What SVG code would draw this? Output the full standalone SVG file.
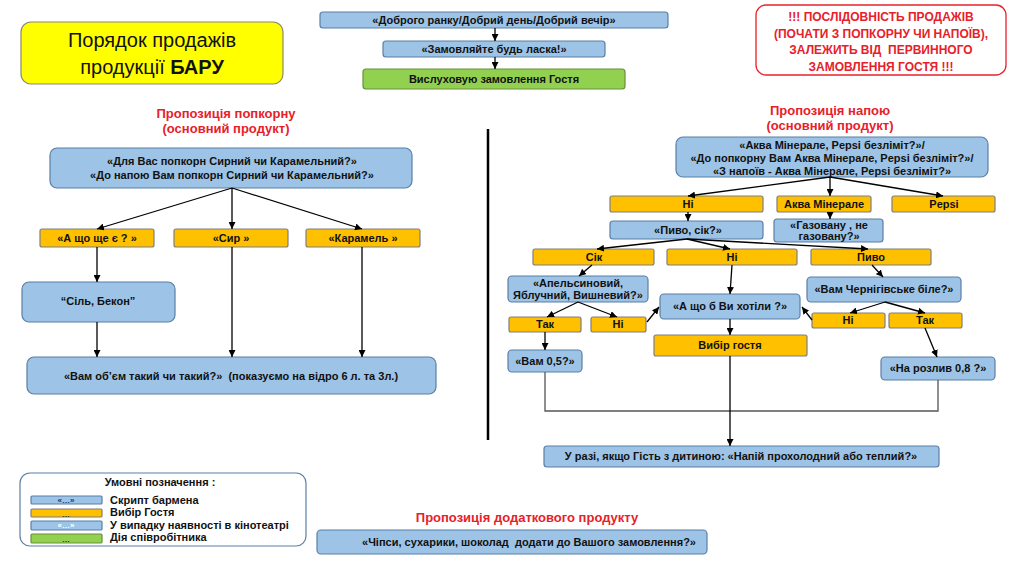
<svg xmlns="http://www.w3.org/2000/svg" width="1024" height="574" viewBox="0 0 1024 574">
<defs>
<marker id="ah" viewBox="0 0 10 10" refX="10" refY="5" markerWidth="7" markerHeight="7" markerUnits="userSpaceOnUse" orient="auto">
<path d="M0,0 L10,5 L0,10 z" fill="#000"/>
</marker>
</defs>
<style>
.b{fill:#9DC3E6;stroke:#5B7FA6;stroke-width:1.2}
.o{fill:#FFC000;stroke:#7F7F7F;stroke-width:1.2}
.g{fill:#92D050;stroke:#6A8F3A;stroke-width:1.2}
.t{font-family:"Liberation Sans",Arial,sans-serif;font-weight:bold;font-size:11px;fill:#111;text-anchor:middle}
.l{font-family:"Liberation Sans",Arial,sans-serif;font-weight:bold;font-size:11px;fill:#111;text-anchor:start}
.s{font-family:"Liberation Sans",Arial,sans-serif;font-weight:bold;font-size:8px;text-anchor:middle}
.r{font-family:"Liberation Sans",Arial,sans-serif;font-weight:bold;font-size:13px;fill:#E8202A;text-anchor:middle}
.w{font-family:"Liberation Sans",Arial,sans-serif;font-weight:bold;font-size:12px;fill:#E8202A;text-anchor:middle}
.c line,.c path,.c polyline{stroke:#000;stroke-width:1.3;fill:none}
.a{marker-end:url(#ah)}
</style>
<rect width="1024" height="574" fill="#fff"/>

<g id="title">
<rect x="21" y="22" width="262" height="62" rx="10" fill="#FFFF00" stroke="#8A8A6A" stroke-width="1.2"/>
<text x="152" y="47" font-family="'Liberation Sans',Arial,sans-serif" font-size="20" text-anchor="middle" fill="#111">Порядок продажів</text>
<text x="152" y="74" font-family="'Liberation Sans',Arial,sans-serif" font-size="20" text-anchor="middle" fill="#111">продукції <tspan font-weight="bold">БАРУ</tspan></text>
</g>

<g id="greet">
<rect class="b" x="320" y="12" width="348" height="16" rx="3"/>
<text class="t" x="494" y="24">«Доброго ранку/Добрий день/Добрий вечір»</text>
</g>
<g id="order">
<rect class="b" x="383" y="41" width="222" height="16" rx="3"/>
<text class="t" x="494" y="53">«Замовляйте будь ласка!»</text>
</g>
<g id="listen">
<rect class="g" x="363" y="69" width="262" height="20" rx="3"/>
<text class="t" x="494" y="83">Вислуховую замовлення Гостя</text>
</g>

<g id="warning">
<rect x="756" y="5" width="250" height="70" rx="10" fill="#fff" stroke="#E8202A" stroke-width="1.3"/>
<text class="w" x="881" y="21">!!! ПОСЛІДОВНІСТЬ ПРОДАЖІВ</text>
<text class="w" x="881" y="38">(ПОЧАТИ З ПОПКОРНУ ЧИ НАПОЇВ),</text>
<text class="w" x="881" y="54" xml:space="preserve">ЗАЛЕЖИТЬ ВІД  ПЕРВИННОГО</text>
<text class="w" x="881" y="71">ЗАМОВЛЕННЯ ГОСТЯ !!!</text>
</g>

<g id="popcorn-title">
<text class="r" x="226" y="118">Пропозиція попкорну</text>
<text class="r" x="226" y="133">(основний продукт)</text>
</g>
<g id="popcorn-q">
<rect class="b" x="50" y="148" width="362" height="40" rx="7"/>
<text class="t" x="232" y="165">«Для Вас попкорн Сирний чи Карамельний?»</text>
<text class="t" x="232" y="179">«До напою Вам попкорн Сирний чи Карамельний?»</text>
</g>
<g id="p-other">
<rect class="o" x="40" y="229" width="114" height="18" rx="2"/>
<text class="t" x="97" y="242">«А що ще є ? »</text>
</g>
<g id="p-cheese">
<rect class="o" x="174" y="229" width="114" height="18" rx="2"/>
<text class="t" x="231" y="242">«Сир »</text>
</g>
<g id="p-caramel">
<rect class="o" x="306" y="229" width="114" height="18" rx="2"/>
<text class="t" x="363" y="242">«Карамель »</text>
</g>
<g id="p-salt">
<rect class="b" x="22" y="282" width="153" height="40" rx="7"/>
<text class="t" x="98" y="305">“Сіль, Бекон”</text>
</g>
<g id="p-volume">
<rect class="b" x="27" y="357" width="409" height="37" rx="7"/>
<text class="t" x="231" y="380" xml:space="preserve">«Вам об’єм такий чи такий?»  (показуємо на відро 6 л. та 3л.)</text>
</g>

<g id="drink-title">
<text class="r" x="830" y="115">Пропозиція напою</text>
<text class="r" x="830" y="130">(основний продукт)</text>
</g>
<g id="drink-q">
<rect class="b" x="676" y="137" width="312" height="40" rx="7"/>
<text class="t" x="832" y="149">«Аква Мінерале, Pepsi безліміт?»/</text>
<text class="t" x="832" y="162">«До попкорну Вам Аква Мінерале, Pepsi безліміт?»/</text>
<text class="t" x="832" y="175">«З напоїв - Аква Мінерале, Pepsi безліміт?»</text>
</g>
<g id="d-no">
<rect class="o" x="610" y="196" width="153" height="16" rx="2"/>
<text class="t" x="688" y="208">Ні</text>
</g>
<g id="d-aqua">
<rect class="o" x="777" y="196" width="94" height="16" rx="2"/>
<text class="t" x="824" y="208">Аква Мінерале</text>
</g>
<g id="d-pepsi">
<rect class="o" x="892" y="196" width="103" height="16" rx="2"/>
<text class="t" x="944" y="208">Pepsi</text>
</g>
<g id="d-beer-juice">
<rect class="b" x="610" y="221" width="153" height="18" rx="3"/>
<text class="t" x="688" y="234">«Пиво, сік?»</text>
</g>
<g id="d-gas">
<rect class="b" x="774" y="219" width="109" height="23" rx="3"/>
<text class="t" x="829" y="229">«Газовану , не</text>
<text class="t" x="829" y="240">газовану?»</text>
</g>
<g id="d-juice">
<rect class="o" x="533" y="249" width="121" height="16" rx="2"/>
<text class="t" x="594" y="261">Сік</text>
</g>
<g id="d-no2">
<rect class="o" x="667" y="249" width="130" height="16" rx="2"/>
<text class="t" x="732" y="261">Ні</text>
</g>
<g id="d-beer">
<rect class="o" x="811" y="249" width="120" height="16" rx="2"/>
<text class="t" x="871" y="261">Пиво</text>
</g>
<g id="d-juices">
<rect class="b" x="508" y="276" width="140" height="26" rx="4"/>
<text class="t" x="578" y="287">«Апельсиновий,</text>
<text class="t" x="578" y="299">Яблучний, Вишневий?»</text>
</g>
<g id="d-what">
<rect class="b" x="660" y="294" width="140" height="25" rx="4"/>
<text class="t" x="730" y="310">«А що б Ви хотіли ?»</text>
</g>
<g id="d-chern">
<rect class="b" x="807" y="277" width="154" height="25" rx="4"/>
<text class="t" x="884" y="293">«Вам Чернігівське біле?»</text>
</g>
<g id="d-yes-j">
<rect class="o" x="509" y="317" width="72" height="15" rx="2"/>
<text class="t" x="545" y="328">Так</text>
</g>
<g id="d-no-j">
<rect class="o" x="591" y="317" width="55" height="15" rx="2"/>
<text class="t" x="618" y="328">Ні</text>
</g>
<g id="d-no-b">
<rect class="o" x="812" y="313" width="73" height="15" rx="2"/>
<text class="t" x="848" y="324">Ні</text>
</g>
<g id="d-yes-b">
<rect class="o" x="889" y="313" width="73" height="15" rx="2"/>
<text class="t" x="925" y="324">Так</text>
</g>
<g id="d-choice">
<rect class="o" x="654" y="335" width="153" height="21" rx="2"/>
<text class="t" x="730" y="349">Вибір гостя</text>
</g>
<g id="d-05">
<rect class="b" x="508" y="350" width="74" height="22" rx="4"/>
<text class="t" x="545" y="365">«Вам 0,5?»</text>
</g>
<g id="d-08">
<rect class="b" x="881" y="357" width="114" height="23" rx="4"/>
<text class="t" x="938" y="372">«На розлив 0,8 ?»</text>
</g>
<g id="d-child">
<rect class="b" x="544" y="446" width="395" height="21" rx="3"/>
<text class="t" x="741" y="460">У разі, якщо Гість з дитиною: «Напій прохолодний або теплий?»</text>
</g>

<g id="legend">
<rect x="20" y="473" width="286" height="73" rx="10" fill="#fff" stroke="#5B7FA6" stroke-width="1.2"/>
<text class="t" x="160" y="486">Умовні позначення :</text>
<rect class="b" x="31" y="496" width="71" height="8" rx="1"/>
<text class="s" x="66" y="503" fill="#1F3864">«…»</text>
<rect class="o" x="31" y="509" width="71" height="8" rx="1"/>
<text class="s" x="66" y="517" fill="#333">…</text>
<rect class="b" x="31" y="521" width="71" height="9" rx="1"/>
<text class="s" x="66" y="528" fill="#fff">«…»</text>
<rect class="g" x="31" y="534" width="71" height="9" rx="1"/>
<text class="s" x="66" y="542" fill="#333">…</text>
<text class="l" x="110" y="504">Скрипт бармена</text>
<text class="l" x="110" y="516">Вибір Гостя</text>
<text class="l" x="110" y="529">У випадку наявності в кінотеатрі</text>
<text class="l" x="110" y="541">Дія співробітника</text>
</g>

<g id="extra-title">
<text class="r" x="527" y="522">Пропозиція додаткового продукту</text>
</g>
<g id="extra">
<rect class="b" x="317" y="530" width="390" height="24" rx="4"/>
<text class="t" x="529" y="546" xml:space="preserve">«Чіпси, сухарики, шоколад  додати до Вашого замовлення?»</text>
</g>

<g id="connectors" class="c">
<line class="a" x1="495" y1="28" x2="495" y2="41"/>
<line class="a" x1="495" y1="57" x2="495" y2="69"/>
<line x1="488" y1="129" x2="488" y2="440" style="stroke-width:2.5"/>

<line class="a" x1="232" y1="188" x2="97" y2="229"/>
<line class="a" x1="232" y1="188" x2="232" y2="229"/>
<line class="a" x1="232" y1="188" x2="362" y2="229"/>
<line class="a" x1="97" y1="247" x2="97" y2="282"/>
<line class="a" x1="97" y1="322" x2="97" y2="357"/>
<line class="a" x1="232" y1="247" x2="232" y2="357"/>
<line class="a" x1="362" y1="247" x2="362" y2="357"/>

<line class="a" x1="830" y1="177" x2="688" y2="196"/>
<line class="a" x1="830" y1="177" x2="830" y2="196"/>
<line class="a" x1="830" y1="177" x2="943" y2="196"/>
<line class="a" x1="688" y1="212" x2="688" y2="221"/>
<line class="a" x1="830" y1="212" x2="830" y2="219"/>
<line class="a" x1="687" y1="239" x2="597" y2="249"/>
<line class="a" x1="687" y1="239" x2="730" y2="249"/>
<line class="a" x1="687" y1="239" x2="868" y2="249"/>
<line class="a" x1="592" y1="265" x2="579" y2="276"/>
<line class="a" x1="732" y1="265" x2="730" y2="294"/>
<line class="a" x1="872" y1="265" x2="883" y2="277"/>
<line class="a" x1="578" y1="302" x2="547" y2="317"/>
<line class="a" x1="578" y1="302" x2="617" y2="317"/>
<line class="a" x1="647" y1="322" x2="659" y2="307"/>
<line class="a" x1="885" y1="302" x2="850" y2="313"/>
<line class="a" x1="885" y1="302" x2="925" y2="313"/>
<line class="a" x1="812" y1="320" x2="802" y2="307"/>
<line class="a" x1="730" y1="319" x2="730" y2="335"/>
<line class="a" x1="545" y1="332" x2="545" y2="350"/>
<line class="a" x1="925" y1="328" x2="937" y2="357"/>
<polyline points="545,372 545,411 938,411 938,380" style="stroke:#555"/>
<line class="a" x1="730" y1="356" x2="730" y2="446"/>
</g>
</svg>
